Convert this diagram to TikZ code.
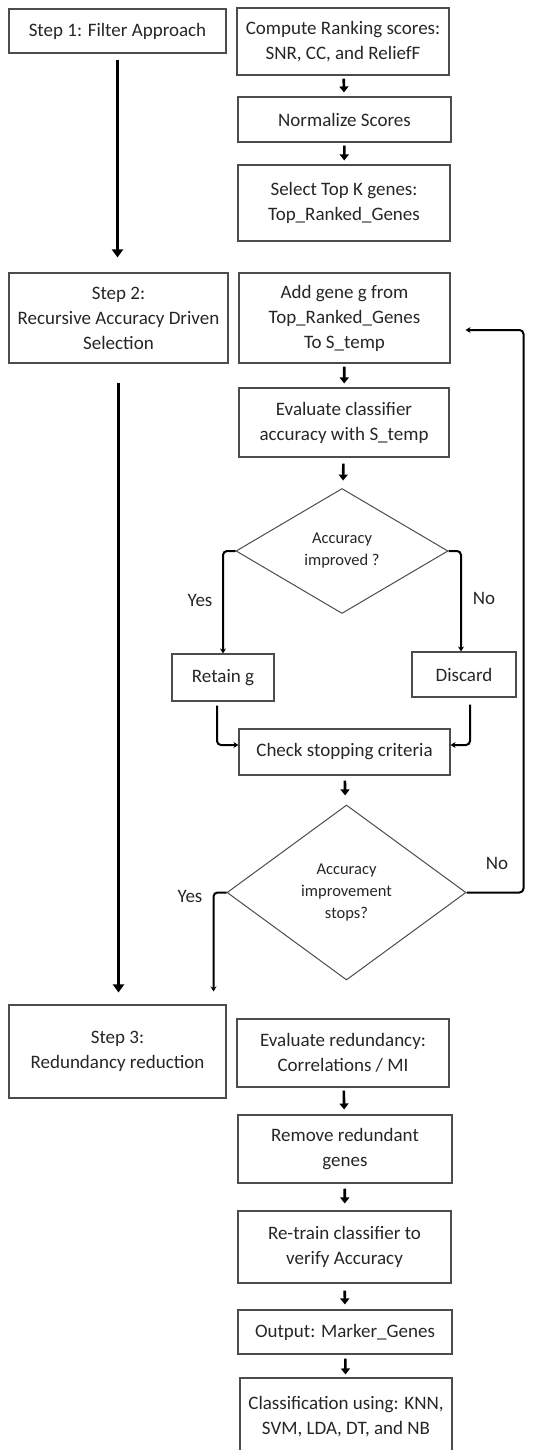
\documentclass[tikz,border=0pt]{standalone}
\usepackage{fontspec}
\setmainfont{Carlito}
\usepackage{tikz}
\usetikzlibrary{arrows.meta,positioning,shapes.geometric}
\tikzset{stepbox/.style={rectangle,draw=black!70,line width=1.1pt,align=center,text=black!85,inner sep=2pt,font=\fontsize{19}{25}\selectfont}}
\tikzset{decision/.style={diamond,draw=black!70,line width=1pt,align=center,inner sep=0pt,text=black!85,font=\fontsize{16.5}{22}\selectfont}}
\tikzset{flow/.style={-{Triangle[width=9pt,length=6pt]},line width=2.6pt}}
\tikzset{bigflow/.style={-{Triangle[width=11pt,length=8pt]},line width=3.6pt}}
\tikzset{branch/.style={-{Stealth[width=6pt,length=5pt]},line width=2pt,rounded corners=4pt}}
\tikzset{answer/.style={text=black!85,font=\fontsize{19}{25}\selectfont}}

\begin{document}
\begin{tikzpicture}[x=1pt,y=-1pt]
  \useasboundingbox (0,0) rectangle (557,1450);
  % left column
  \node[stepbox,minimum width=217pt,minimum height=44pt] (step1) at (117.5,31) {Step 1: Filter Approach};
  \node[stepbox,minimum width=219pt,minimum height=90pt] (step2) at (118.5,318) {Step 2:\\Recursive Accuracy Driven\\Selection};
  \node[stepbox,minimum width=217pt,minimum height=93pt] (step3) at (117.5,1051.5) {Step 3:\\Redundancy reduction};
  % right column
  \node[stepbox,minimum width=212pt,minimum height=67pt] (rank) at (343,41.5) {Compute Ranking scores:\\SNR, CC, and ReliefF};
  \node[stepbox,minimum width=213pt,minimum height=45pt] (norm) at (344.5,119.5) {Normalize Scores};
  \node[stepbox,minimum width=212pt,minimum height=76pt] (topk) at (344,203) {Select Top K genes:\\Top\_Ranked\_Genes};
  \node[stepbox,minimum width=211pt,minimum height=90pt] (addg) at (344.5,318) {Add gene g from\\Top\_Ranked\_Genes\\To S\_temp};
  \node[stepbox,minimum width=210pt,minimum height=69pt] (evalc) at (344,422.5) {Evaluate classifier\\accuracy with S\_temp};
  \node[decision,minimum width=212pt,minimum height=125pt] (improved) at (342,551) {Accuracy\\improved ?};
  \node[stepbox,minimum width=102pt,minimum height=47pt] (retain) at (223,677.5) {Retain g};
  \node[stepbox,minimum width=104pt,minimum height=45pt] (discard) at (464,674.5) {Discard};
  \node[stepbox,minimum width=211pt,minimum height=46pt] (check) at (344.5,752) {Check stopping criteria};
  \node[decision,minimum width=239pt,minimum height=175pt] (stops) at (346.5,892.5) {Accuracy\\improvement\\stops?};
  \node[stepbox,minimum width=212pt,minimum height=68pt] (evalr) at (343,1053) {Evaluate redundancy:\\Correlations / MI};
  \node[stepbox,minimum width=214pt,minimum height=68pt] (remove) at (345,1149) {Remove redundant\\genes};
  \node[stepbox,minimum width=213pt,minimum height=72pt] (retrain) at (344.5,1247) {Re-train classifier to\\verify Accuracy};
  \node[stepbox,minimum width=214pt,minimum height=44pt] (output) at (345,1332) {Output: Marker\_Genes};
  \node[stepbox,minimum width=212pt,minimum height=78pt] (classif) at (346,1417) {Classification using: KNN,\\SVM, LDA, DT, and NB};
  % branch labels
  \node[answer] (yes1) at (200,600) {Yes};
  \node[answer] (no1) at (484,598) {No};
  \node[answer] (yes2) at (190,896) {Yes};
  \node[answer] (no2) at (497,863) {No};

  \draw[bigflow,shorten <=6pt,shorten >=15pt] (step1) -- (step1 |- step2.north);
  \draw[bigflow,shorten <=19pt,shorten >=12pt] (step2) -- (step2 |- step3.north);
  \draw[flow,shorten <=3pt,shorten >=4pt] (rank) -- (norm);
  \draw[flow,shorten <=3pt,shorten >=4pt] (norm) -- (topk);
  \draw[flow,shorten <=3pt,shorten >=4pt] (addg) -- (evalc);
  \draw[flow,shorten <=6pt,shorten >=8pt] (evalc) -- (improved);
  \draw[flow,shorten <=5pt,shorten >=10pt] (check) -- (stops);
  \draw[flow,shorten <=3pt,shorten >=5pt] (evalr) -- (remove);
  \draw[flow,shorten <=5pt,shorten >=7pt] (remove) -- (retrain);
  \draw[flow,shorten <=7pt,shorten >=5pt] (retrain) -- (output);
  \draw[flow,shorten <=4pt,shorten >=3pt] (output) -- (classif);
  \draw[branch] (improved.west) -| (retain.north);
  \draw[branch] (improved.east) -| ([xshift=-3pt]discard.north);
  \draw[branch,shorten <=4pt] ([xshift=-6pt]retain.south) |- ([yshift=7pt]check.west);
  \draw[branch,shorten <=7pt] ([xshift=6pt]discard.south) |- ([yshift=7pt]check.east);
  \draw[branch,shorten >=13pt] (stops.west) -| ([xshift=96pt]step3.north);
  \draw[branch,shorten >=15pt] (stops.east) -- ++(57,0) |- ([yshift=-12pt]addg.east);
\end{tikzpicture}
\end{document}
